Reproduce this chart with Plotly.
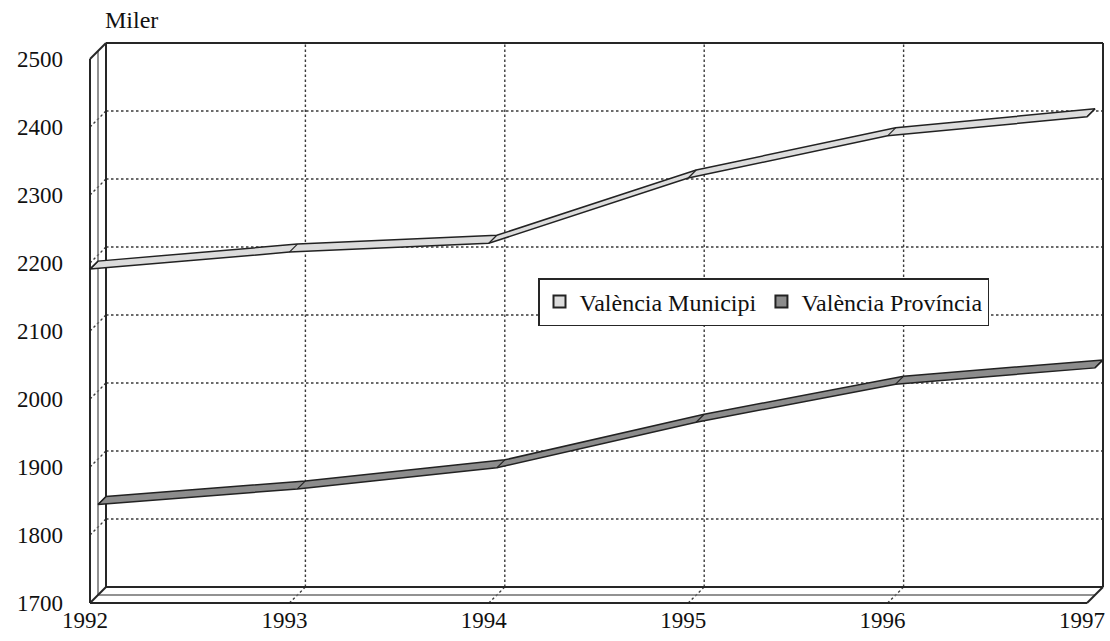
import plotly.graph_objects as go

# Population series (thousands), one value per year
years = [1992, 1993, 1994, 1995, 1996, 1997]
municipi = [2191, 2216, 2229, 2325, 2387, 2415]
provincia = [1833, 1856, 1887, 1954, 2010, 2034]
series_names = ["València Municipi", "València Província"]
y_ticks = [1700, 1800, 1900, 2000, 2100, 2200, 2300, 2400, 2500]
unit_label = "Miler"

# Plot geometry (pixels) and the pseudo-3D depth of the box
W, H = 1110, 641
M_L, M_R, M_T, M_B = 64, 0, 30, 37
PX_PER_YEAR = 199.4
PX_PER_UNIT = 0.68
DEPTH_PX = 16.0
FRONT_X0_PX = 90 - M_L          # 1992 on the front plane
FRONT_Y0_PX = (H - M_B) - 603   # 1700 on the front plane, from plot bottom

plot_w = W - M_L - M_R
plot_h = H - M_T - M_B
x_lo = years[0] - FRONT_X0_PX / PX_PER_YEAR
x_hi = x_lo + plot_w / PX_PER_YEAR
y_lo = y_ticks[0] - FRONT_Y0_PX / PX_PER_UNIT
y_hi = y_lo + plot_h / PX_PER_UNIT

# depth offset expressed in data units
DX = DEPTH_PX / PX_PER_YEAR
DY = DEPTH_PX / PX_PER_UNIT


def proj(x, v, z):
    return x + z * DX, v + z * DY


def segments(pairs):
    xs, ys = [], []
    for (a, b) in pairs:
        for p in (a, b):
            px, py = proj(*p)
            xs.append(px)
            ys.append(py)
        xs.append(None)
        ys.append(None)
    return xs, ys


X0, X1 = years[0], years[-1]
V0, V1 = y_ticks[0], y_ticks[-1]

fig = go.Figure()


def add_lines(pairs, color, width, dash="solid"):
    xs, ys = segments(pairs)
    fig.add_trace(go.Scatter(x=xs, y=ys, mode="lines",
                             line=dict(color=color, width=width, dash=dash),
                             showlegend=False, hoverinfo="skip"))


# dotted grid on the back wall, side wall and floor
grid = []
for v in y_ticks[1:-1]:
    grid.append(((X0, v, 1), (X1, v, 1)))
    grid.append(((X0, v, 0), (X0, v, 1)))
for yr in years[1:-1]:
    grid.append(((yr, V0, 1), (yr, V1, 1)))
    grid.append(((yr, V0, 0), (yr, V0, 1)))
add_lines(grid, "#3a3a3a", 1.4, dash="2.5px,2.5px")

# middle depth lines of the side wall and floor
add_lines([((X0, V0, 0.5), (X0, V1, 0.5)),
           ((X0, V0, 0.5), (X1, V0, 0.5))], "#6e6e6e", 1.5)

# box outline
add_lines([((X0, V0, 1), (X1, V0, 1)), ((X1, V0, 1), (X1, V1, 1)),
           ((X1, V1, 1), (X0, V1, 1)), ((X0, V1, 1), (X0, V0, 1)),
           ((X0, V0, 0), (X0, V1, 0)), ((X0, V1, 0), (X0, V1, 1)),
           ((X0, V0, 0), (X1, V0, 0)), ((X0, V0, 0), (X0, V0, 1)),
           ((X1, V0, 0), (X1, V0, 1))], "#262626", 2)


def ribbon(values, z0, z1, fill):
    front = [proj(x, v, z0) for x, v in zip(years, values)]
    back = [proj(x, v, z1) for x, v in zip(years, values)]
    poly = front + back[::-1] + [front[0]]
    fig.add_trace(go.Scatter(x=[p[0] for p in poly], y=[p[1] for p in poly],
                             mode="lines", fill="toself", fillcolor=fill,
                             line=dict(color="#222222", width=1.5),
                             showlegend=False, hoverinfo="skip"))
    add_lines([((x, v, z0), (x, v, z1)) for x, v in zip(years, values)],
              "#222222", 1.2)


colors = ["#dcdcdc", "#8c8c8c"]
ribbon(provincia, 0.5, 1.0, colors[1])
ribbon(municipi, 0.0, 0.5, colors[0])

# legend entries
for name, c in zip(series_names, colors):
    fig.add_trace(go.Scatter(x=[None], y=[None], mode="markers", name=name,
                             marker=dict(symbol="square", size=15, color=c,
                                         line=dict(color="#222222", width=1.5))))

serif = "Liberation Serif, Times New Roman, serif"
tick_font = dict(family=serif, size=23, color="#111111")
text_font = dict(family=serif, size=24, color="#111111")

fig.add_annotation(text=unit_label, xref="paper", yref="paper",
                   x=(131 - M_L) / plot_w, y=(H - M_B - 20) / plot_h,
                   xanchor="center", yanchor="middle", showarrow=False, font=text_font)

fig.update_layout(
    width=W, height=H,
    margin=dict(l=M_L, r=M_R, t=M_T, b=M_B),
    paper_bgcolor="white", plot_bgcolor="white",
    font=tick_font,
    hovermode=False,
    showlegend=True,
    legend=dict(orientation="h", x=(538 - M_L) / plot_w, y=(H - M_B - 278) / plot_h,
                xanchor="left", yanchor="top", bgcolor="white",
                bordercolor="#262626", borderwidth=1.5, font=text_font,
                itemsizing="constant"),
    xaxis=dict(range=[x_lo, x_hi], tickvals=years, ticktext=[str(y) for y in years],
               showgrid=False, zeroline=False, showline=False, ticks="",
               ticklabelshift=-5, fixedrange=True),
    yaxis=dict(range=[y_lo, y_hi], tickvals=y_ticks, ticktext=[str(v) for v in y_ticks],
               showgrid=False, zeroline=False, showline=False, ticks="",
               fixedrange=True),
)

fig.write_html("out.html")
